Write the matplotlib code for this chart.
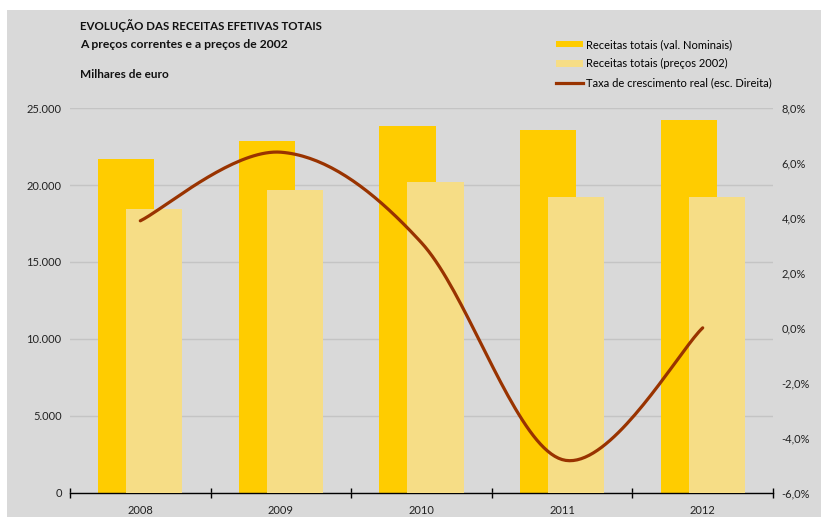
import numpy as np
import matplotlib
matplotlib.use("Agg")
import matplotlib.pyplot as plt
from matplotlib.patches import Rectangle
from matplotlib.lines import Line2D
from matplotlib.ticker import FuncFormatter, FixedLocator

# ------------------------------------------------------------
# Dados - receitas efetivas totais (milhares de euro)
# ------------------------------------------------------------
anos = ["2008", "2009", "2010", "2011", "2012"]
receitas_nominais = [21700, 22870, 23840, 23590, 24240]
receitas_2002 = [18450, 19680, 20220, 19230, 19230]
taxa_real = [3.9, 6.4, 3.1, -4.8, 0.0]

cor_fundo = "#d9d9d9"
cor_nominal = "#ffcc00"
cor_2002 = "#f6dd86"
cor_taxa = "#993300"

plt.rcParams["font.family"] = ["Lato", "DejaVu Sans"]


def curva_suave(xs, ys, n=40):
    # spline tipo Catmull-Rom (como a "linha suavizada" do Excel)
    p = np.column_stack([xs, ys]).astype(float)
    p_ext = np.vstack([p[0], p, p[-1]])
    pts = []
    for i in range(len(p) - 1):
        p0, p1, p2, p3 = p_ext[i], p_ext[i + 1], p_ext[i + 2], p_ext[i + 3]
        c1 = p1 + (p2 - p0) / 6
        c2 = p2 - (p3 - p1) / 6
        t = np.linspace(0, 1, n)[:, None]
        seg = ((1 - t) ** 3) * p1 + 3 * ((1 - t) ** 2) * t * c1 + 3 * (1 - t) * t ** 2 * c2 + t ** 3 * p2
        pts.append(seg if i == 0 else seg[1:])
    pts = np.vstack(pts)
    return pts[:, 0], pts[:, 1]


fig = plt.figure(figsize=(8.21, 5.17), dpi=100)
fig.patch.set_facecolor(cor_fundo)
# margem branca em cima e à esquerda
fig.patches.append(Rectangle((0, (517 - 10) / 517), 1, 10 / 517, transform=fig.transFigure,
                             facecolor="white", edgecolor="none", zorder=-5))
fig.patches.append(Rectangle((0, 0), 7 / 821, 1, transform=fig.transFigure,
                             facecolor="white", edgecolor="none", zorder=-5))

ax = fig.add_axes([70 / 821, (517 - 492.5) / 517, (773 - 70) / 821, (492.5 - 108.3) / 517])
ax.set_facecolor("none")
ax2 = ax.twinx()
ax2.set_facecolor("none")

x = np.arange(len(anos))
largura = 0.4

ax.bar(x - 0.1, receitas_nominais, width=largura, color=cor_nominal, zorder=2)
ax.bar(x + 0.1, receitas_2002, width=largura, color=cor_2002, zorder=3)

ax.set_xlim(-0.5, len(anos) - 0.5)
ax.set_ylim(0, 25000)
ax.set_yticks(np.arange(0, 25001, 5000))
ax.yaxis.set_major_formatter(FuncFormatter(lambda v, p: f"{int(v):,}".replace(",", ".")))
ax.grid(axis="y", color="#c4c4c4", linewidth=1)
ax.set_axisbelow(True)
ax.tick_params(axis="y", length=0, pad=6, labelsize=8, labelcolor="#222222")

ax.set_xticks(x)
ax.set_xticklabels(anos)
ax.xaxis.set_minor_locator(FixedLocator(np.arange(-0.5, len(anos), 1)))
ax.tick_params(axis="x", which="major", length=0, pad=9, labelsize=8, labelcolor="#222222")
ax.tick_params(axis="x", which="minor", direction="inout", length=7, width=1, color="black")

for s in ["top", "left", "right"]:
    ax.spines[s].set_visible(False)
    ax2.spines[s].set_visible(False)
ax2.spines["bottom"].set_visible(False)
ax.spines["bottom"].set_color("black")
ax.spines["bottom"].set_linewidth(1)

xs, ys = curva_suave(x, taxa_real)
ax2.plot(xs, ys, color=cor_taxa, linewidth=2.3, solid_capstyle="round", zorder=4)
ax2.set_ylim(-6, 8)
ax2.set_yticks(np.arange(-6, 8.1, 2))
ax2.yaxis.set_major_formatter(FuncFormatter(lambda v, p: f"{v:.1f}%".replace(".", ",")))
ax2.tick_params(axis="y", length=0, pad=6, labelsize=8, labelcolor="#222222")

# títulos
fig.text(80 / 821, 1 - 26 / 517, "EVOLUÇÃO DAS RECEITAS EFETIVAS TOTAIS", fontsize=8.3,
         fontweight="bold", va="center", ha="left", color="#111111")
fig.text(80 / 821, 1 - 45 / 517, "A preços correntes e a preços de 2002", fontsize=8.7,
         fontweight="bold", va="center", ha="left", color="#111111")
fig.text(80 / 821, 1 - 75 / 517, "Milhares de euro", fontsize=8.5,
         fontweight="bold", va="center", ha="left", color="#111111")

# legenda
handles = [
    Rectangle((0, 0), 1, 1, facecolor=cor_nominal, edgecolor="none"),
    Rectangle((0, 0), 1, 1, facecolor=cor_2002, edgecolor="none"),
    Line2D([0], [0], color=cor_taxa, linewidth=2.3),
]
labels = ["Receitas totais (val. Nominais)", "Receitas totais (preços 2002)",
          "Taxa de crescimento real (esc. Direita)"]
fig.legend(handles, labels, loc="upper left", bbox_to_anchor=(556 / 821, 1 - 39 / 517),
           frameon=False, fontsize=8, handlelength=2.4, handleheight=0.55,
           handletextpad=0.3, labelspacing=0.75, borderaxespad=0, borderpad=0)

fig.savefig("out.png", dpi=100, facecolor=fig.get_facecolor())
